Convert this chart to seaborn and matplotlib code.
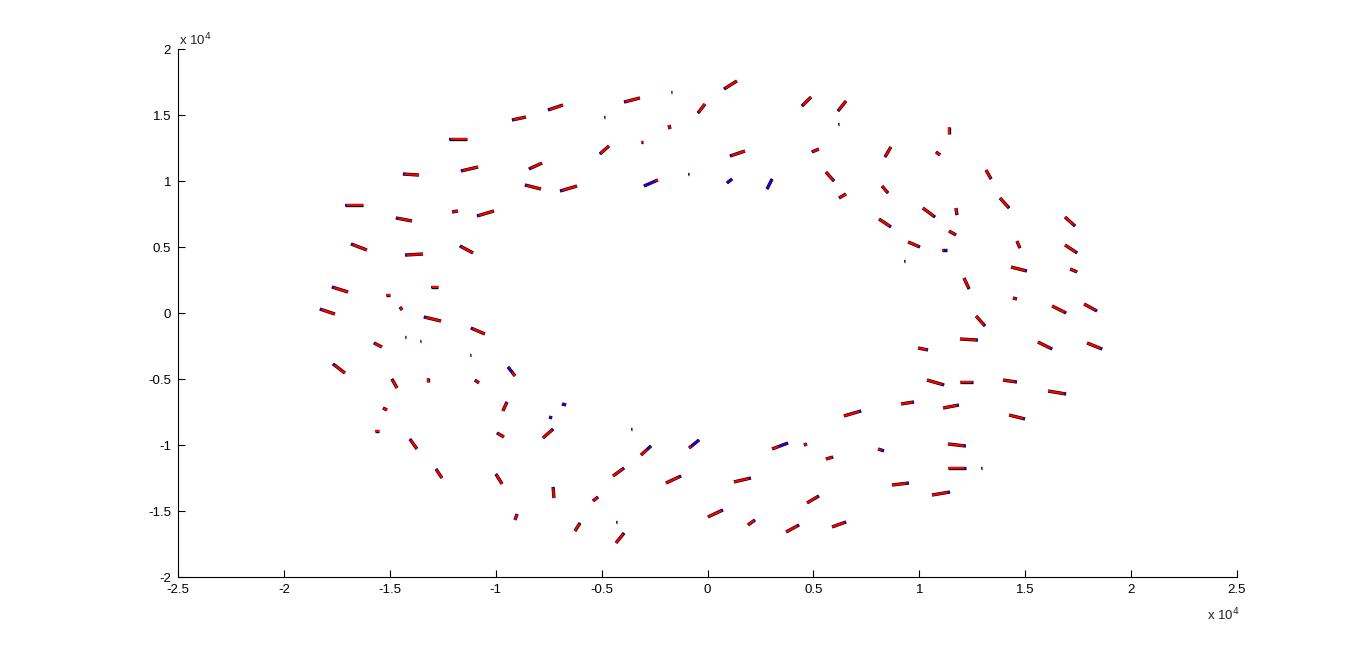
import numpy as np
import pandas as pd
import matplotlib
matplotlib.use("Agg")
import matplotlib.pyplot as plt
import seaborn as sns
from matplotlib.ticker import FuncFormatter, MultipleLocator

SCALE = 1e4  # values below are in units of 10^4

# segment start points (blue end) and end points
x0 = [-0.753, -0.923, -1.220, -1.164, -0.843, -1.438, -0.862, -0.696, -1.712, -1.471,
      -1.206, -1.088, -1.683, -1.428, -1.169, -1.773, -1.518, -1.305, -1.830, -1.452,
      0.078, -0.394, -0.172, -0.045, 0.446, 0.616, -0.489, -0.177, 0.616, -0.508,
      -0.314, 0.106, 0.493, 0.597, -0.300, -0.092, 0.092, 0.281, 0.621,
      1.140, 0.838, 1.079, 1.339, 0.852, 1.424, 1.074, 1.178, 1.735, 0.866,
      1.173, 1.003, 1.131, 1.475, 1.745, 0.928, 1.508, 1.745, 1.235, 1.461, 1.693, 1.839,
      -1.339, -1.117, -1.428, -1.357, -1.575, -1.121, -1.768, -0.942, -1.490, -1.320,
      -1.098, -1.532, -0.947, -0.687, -0.748, -1.570, -0.994, -0.729, -1.405, -1.282,
      -0.999, -0.729, -0.899, -0.602,
      -0.361, -0.267, -0.040, 0.380, 0.460, 0.593, -0.394, -0.125, 0.205, -0.517,
      0.526, 0.073, 0.224, -0.432, 0.432, 0.654, -0.394,
      1.310, 1.277, 1.041, 1.627, 1.863, 1.117, 1.254, 1.461, 1.693, 0.975,
      1.187, 0.725, 1.499, 1.220, 0.833, 1.220, 1.291, 0.951, 1.145]
y0 = [1.538, 1.462, 1.318, 1.076, 1.091, 1.053, 0.970, 0.924, 0.818, 0.720,
      0.765, 0.735, 0.523, 0.439, 0.508, 0.197, 0.136, 0.197, 0.030, 0.045,
      1.697, 1.598, 1.674, 1.515, 1.568, 1.530, 1.485, 1.394, 1.432, 1.205,
      1.295, 1.189, 1.220, 1.000, 0.962, 1.053, 0.985, 0.939, 0.871,
      1.409, 1.182, 1.220, 1.015, 0.909, 0.795, 0.727, 0.742, 0.659, 0.652,
      0.591, 0.500, 0.477, 0.492, 0.455, 0.394, 0.318, 0.311, 0.182, 0.106, 0.000, 0.015,
      -0.030, -0.114, -0.182, -0.212, -0.227, -0.318, -0.386, -0.409, -0.500, -0.492,
      -0.508, -0.720, -0.674, -0.689, -0.788, -0.894, -0.909, -0.879, -0.955, -1.182,
      -1.220, -1.318, -1.523, -1.591,
      -0.879, -1.008, -0.962, -0.985, -0.985, -1.091, -1.174, -1.235, -1.250, -1.394,
      -1.386, -1.492, -1.568, -1.583, -1.606, -1.583, -1.667,
      -0.098, -0.205, -0.280, -0.273, -0.273, -0.545, -0.523, -0.523, -0.614, -0.674,
      -0.697, -0.742, -0.803, -1.008, -1.045, -1.174, -1.174, -1.288, -1.356]
x1 = [-0.682, -0.857, -1.136, -1.083, -0.781, -1.362, -0.786, -0.616, -1.627, -1.395,
      -1.178, -1.008, -1.608, -1.343, -1.107, -1.697, -1.499, -1.272, -1.759, -1.442,
      0.139, -0.319, -0.166, -0.012, 0.489, 0.654, -0.483, -0.182, 0.622, -0.465,
      -0.304, 0.177, 0.526, 0.559, -0.234, -0.086, 0.116, 0.305, 0.654,
      1.140, 0.866, 1.098, 1.315, 0.824, 1.381, 1.017, 1.173, 1.688, 0.810,
      1.140, 0.947, 1.107, 1.461, 1.688, 0.934, 1.433, 1.712, 1.211, 1.442, 1.627, 1.778,
      -1.258, -1.051, -1.422, -1.351, -1.537, -1.115, -1.712, -0.909, -1.466, -1.320,
      -1.079, -1.513, -0.966, -0.668, -0.734, -1.551, -0.961, -0.777, -1.372, -1.254,
      -0.970, -0.725, -0.909, -0.626,
      -0.355, -0.314, -0.087, 0.305, 0.465, 0.559, -0.446, -0.196, 0.125, -0.541,
      0.470, 0.002, 0.191, -0.426, 0.371, 0.588, -0.432,
      1.268, 1.192, 0.994, 1.560, 1.792, 1.036, 1.192, 1.395, 1.608, 0.914,
      1.112, 0.644, 1.424, 1.135, 0.805, 1.135, 1.297, 0.871, 1.060]
y1 = [1.576, 1.485, 1.318, 1.106, 1.136, 1.045, 0.939, 0.962, 0.818, 0.697,
      0.773, 0.773, 0.477, 0.447, 0.455, 0.159, 0.136, 0.197, -0.008, 0.023,
      1.758, 1.629, 1.674, 1.583, 1.636, 1.606, 1.485, 1.424, 1.432, 1.265,
      1.295, 1.227, 1.242, 1.068, 1.008, 1.053, 1.015, 1.015, 0.902,
      1.356, 1.258, 1.197, 1.083, 0.962, 0.871, 0.795, 0.795, 0.727, 0.712,
      0.621, 0.538, 0.477, 0.545, 0.515, 0.394, 0.348, 0.333, 0.265, 0.114, 0.053, 0.068,
      -0.061, -0.159, -0.182, -0.212, -0.258, -0.318, -0.455, -0.477, -0.568, -0.523,
      -0.530, -0.735, -0.742, -0.697, -0.795, -0.894, -0.939, -0.947, -1.030, -1.250,
      -1.295, -1.402, -1.568, -1.652,
      -0.879, -1.076, -1.023, -1.030, -1.008, -1.106, -1.235, -1.288, -1.280, -1.424,
      -1.439, -1.545, -1.606, -1.583, -1.659, -1.621, -1.742,
      -0.023, -0.197, -0.265, -0.220, -0.227, -0.508, -0.523, -0.508, -0.591, -0.689,
      -0.720, -0.780, -0.773, -0.992, -1.030, -1.174, -1.174, -1.303, -1.379]

# fraction of each segment covered by the blue track (1-based index overrides)
blue_override = {23: 0.0, 27: 1.0, 29: 1.0, 35: 0.8, 36: 1.0, 37: 1.0, 38: 1.0,
                 40: 0.0, 52: 0.6, 55: 0.5, 64: 0.0, 65: 0.0, 67: 0.0, 69: 0.6, 75: 1.0,
                 76: 1.0, 86: 0.5, 87: 0.4, 88: 0.8, 89: 0.6, 99: 1.0, 104: 0.1,
                 117: 0.5, 119: 1.0}

n = len(x0)
assert len(y0) == n and len(x1) == n and len(y1) == n
blue_frac = [blue_override.get(i + 1, 0.12) for i in range(n)]

rows_full, rows_blue = [], []
for i in range(n):
    xa, ya, xb, yb = x0[i] * SCALE, y0[i] * SCALE, x1[i] * SCALE, y1[i] * SCALE
    rows_full += [(i, xa, ya), (i, xb, yb)]
    f = blue_frac[i]
    if f > 0:
        rows_blue += [(i, xa, ya), (i, xa + f * (xb - xa), ya + f * (yb - ya))]
df_full = pd.DataFrame(rows_full, columns=["seg", "x", "y"])
df_blue = pd.DataFrame(rows_blue, columns=["seg", "x", "y"])

sns.set_style("white")
plt.rcParams["font.family"] = ["Liberation Sans", "DejaVu Sans"]

fig = plt.figure(figsize=(13.67, 6.52), dpi=100)
ax = fig.add_axes([178 / 1367, 75 / 652, 1059 / 1367, 528 / 652])

common = dict(x="x", y="y", units="seg", estimator=None, sort=False, ax=ax, legend=False)
sns.lineplot(data=df_full, color="black", lw=2.4, solid_capstyle="butt", **common)
sns.lineplot(data=df_full, color=(1, 0, 0), lw=1.5, solid_capstyle="butt", **common)
sns.lineplot(data=df_blue, color=(0, 0, 1), lw=1.3, solid_capstyle="butt", **common)

ax.set_xlim(-2.5 * SCALE, 2.5 * SCALE)
ax.set_ylim(-2 * SCALE, 2 * SCALE)
ax.set_xlabel("")
ax.set_ylabel("")
ax.xaxis.set_major_locator(MultipleLocator(0.5 * SCALE))
ax.yaxis.set_major_locator(MultipleLocator(0.5 * SCALE))
fmt = FuncFormatter(lambda v, p: "%g" % (round(v / SCALE, 2)))
ax.xaxis.set_major_formatter(fmt)
ax.yaxis.set_major_formatter(fmt)
for s in ["top", "right"]:
    ax.spines[s].set_visible(False)
for s in ["left", "bottom"]:
    ax.spines[s].set_color("black")
    ax.spines[s].set_linewidth(0.8)
ax.tick_params(direction="in", length=5, width=0.8, color="black",
               labelsize=9.5, labelcolor="black", pad=5,
               top=False, right=False, bottom=True, left=True)
ax.grid(False)

fig.text(179 / 1367, 1 - 40 / 652, r"x 10$^{4}$", fontsize=9.5, ha="left", va="center")
fig.text(1207 / 1367, 1 - 615 / 652, r"x 10$^{4}$", fontsize=9.5, ha="left", va="center")

fig.savefig("out.png", dpi=100, facecolor="white")
